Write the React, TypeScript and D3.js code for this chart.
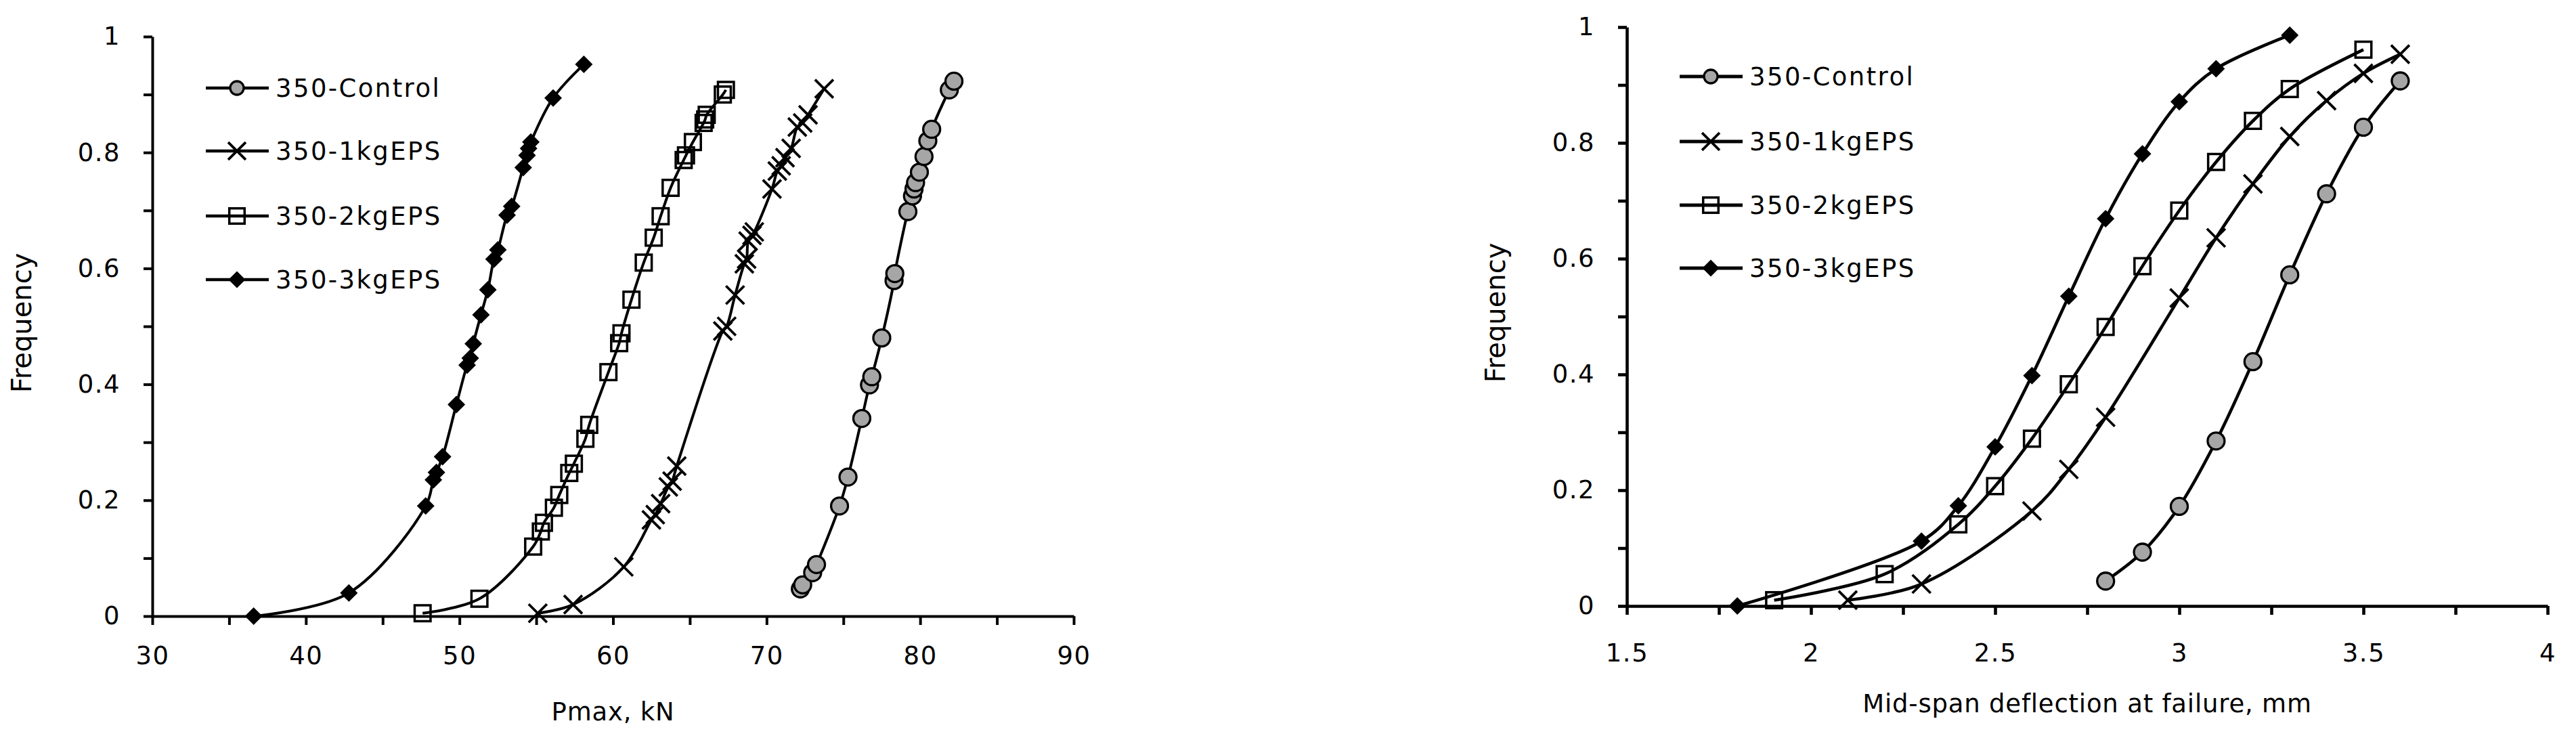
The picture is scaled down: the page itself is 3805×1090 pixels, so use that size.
import React, { useEffect, useRef } from "react";
import * as d3 from "d3";

const seriesNames = ["350-Control", "350-1kgEPS", "350-2kgEPS", "350-3kgEPS"];
const markerTypes = ["circle", "cross", "square", "diamond"];

// ---------------- Pmax panel ----------------
const pmaxControlX = [72.2, 72.35, 73.0, 73.25, 74.75, 75.3, 76.2, 76.7, 76.85, 77.5, 78.3, 78.35, 79.2, 79.5, 79.6, 79.7, 79.95, 80.25, 80.5, 80.75, 81.9, 82.2];
const pmaxControlY = [0.047, 0.054, 0.075, 0.089, 0.19, 0.24, 0.341, 0.399, 0.413, 0.48, 0.579, 0.591, 0.698, 0.725, 0.737, 0.748, 0.766, 0.793, 0.82, 0.84, 0.908, 0.923];

const pmax1kgX = [55.1, 57.4, 60.7, 62.5, 62.75, 63.1, 63.6, 63.85, 64.15, 67.15, 67.4, 67.95, 68.55, 68.7, 68.8, 69.05, 69.2, 70.35, 70.7, 70.95, 71.2, 71.6, 72.0, 72.35, 72.7, 73.75];
const pmax1kgY = [0.005, 0.02, 0.085, 0.166, 0.175, 0.194, 0.223, 0.233, 0.259, 0.492, 0.5, 0.554, 0.608, 0.616, 0.647, 0.657, 0.663, 0.737, 0.768, 0.777, 0.791, 0.807, 0.844, 0.851, 0.865, 0.91];

const pmax2kgX = [47.6, 51.3, 54.8, 55.3, 55.5, 56.15, 56.5, 57.15, 57.45, 58.2, 58.45, 59.7, 60.4, 60.55, 61.2, 62.0, 62.65, 63.1, 63.75, 64.6, 64.75, 65.2, 65.9, 66.0, 66.1, 67.15, 67.35];
const pmax2kgY = [0.005, 0.03, 0.12, 0.146, 0.161, 0.187, 0.209, 0.247, 0.263, 0.306, 0.33, 0.421, 0.471, 0.488, 0.546, 0.61, 0.653, 0.69, 0.739, 0.787, 0.795, 0.818, 0.851, 0.857, 0.865, 0.9, 0.908];

const pmax3kgX = [36.6, 42.8, 47.8, 48.3, 48.5, 48.9, 49.8, 50.5, 50.7, 50.9, 51.4, 51.85, 52.25, 52.5, 53.1, 53.4, 54.15, 54.4, 54.5, 54.65, 56.1, 58.1];
const pmax3kgY = [0.0, 0.04, 0.19, 0.235, 0.248, 0.275, 0.365, 0.433, 0.445, 0.47, 0.52, 0.563, 0.616, 0.632, 0.692, 0.707, 0.774, 0.795, 0.807, 0.818, 0.894, 0.952];

// ---------------- deflection panel ----------------
const deflControlX = [2.8, 2.9, 3.0, 3.1, 3.2, 3.3, 3.4, 3.5, 3.6];
const deflControlY = [0.043, 0.093, 0.172, 0.285, 0.422, 0.572, 0.712, 0.827, 0.907];

const defl1kgX = [2.1, 2.3, 2.6, 2.7, 2.8, 3.0, 3.1, 3.2, 3.3, 3.4, 3.5, 3.6];
const defl1kgY = [0.01, 0.038, 0.164, 0.236, 0.326, 0.532, 0.636, 0.729, 0.811, 0.873, 0.92, 0.953];

const defl2kgX = [1.9, 2.2, 2.4, 2.5, 2.6, 2.7, 2.8, 2.9, 3.0, 3.1, 3.2, 3.3, 3.5];
const defl2kgY = [0.01, 0.055, 0.141, 0.207, 0.289, 0.383, 0.482, 0.587, 0.683, 0.767, 0.838, 0.893, 0.961];

const defl3kgX = [1.8, 2.3, 2.4, 2.5, 2.6, 2.7, 2.8, 2.9, 3.0, 3.1, 3.3];
const defl3kgY = [0.0, 0.112, 0.173, 0.275, 0.398, 0.535, 0.669, 0.781, 0.871, 0.928, 0.986];

// ---------------- ticks ----------------
const pmaxTickLabels = [30, 40, 50, 60, 70, 80, 90];
const deflTickLabels = [1.5, 2, 2.5, 3, 3.5, 4];
const freqTickLabels = [0, 0.2, 0.4, 0.6, 0.8, 1];

const FONT = "DejaVu Sans, Lato, sans-serif";

const zip = (xs: number[], ys: number[]) => xs.map((v, i) => [v, ys[i]] as [number, number]);

const panels = [
  {
    left: 225, right: 1586, top: 54, bottom: 910,
    xDomain: [30, 90], xStep: 5, xLabels: pmaxTickLabels,
    xTitle: "Pmax, kN", xTitleY: 1064, xPad: 31,
    yTitleX: 46, yTitleY: 477,
    legendX: 304, legendRows: [130, 223, 319, 413],
    strokeW: 4, axisW: 4, legendW: 4.5,
    series: [zip(pmaxControlX, pmaxControlY), zip(pmax1kgX, pmax1kgY), zip(pmax2kgX, pmax2kgY), zip(pmax3kgX, pmax3kgY)],
  },
  {
    left: 2403, right: 3763, top: 40, bottom: 895,
    xDomain: [1.5, 4], xStep: 0.25, xLabels: deflTickLabels,
    xTitle: "Mid-span deflection at failure, mm", xTitleY: 1052, xPad: 42,
    yTitleX: 2223, yTitleY: 462,
    legendX: 2481, legendRows: [113, 209, 303, 396],
    strokeW: 4.6, axisW: 4.6, legendW: 5,
    series: [zip(deflControlX, deflControlY), zip(defl1kgX, defl1kgY), zip(defl2kgX, defl2kgY), zip(defl3kgX, defl3kgY)],
  },
];

function drawMarker(g: any, type: string, cx: number, cy: number, s: number) {
  if (type === "circle") {
    g.append("circle").attr("cx", cx).attr("cy", cy).attr("r", s * 0.5)
      .attr("fill", "#a6a6a6").attr("stroke", "#000").attr("stroke-width", 3.3);
  } else if (type === "square") {
    g.append("rect").attr("x", cx - s * 0.47).attr("y", cy - s * 0.47)
      .attr("width", s * 0.94).attr("height", s * 0.94)
      .attr("fill", "none").attr("stroke", "#000").attr("stroke-width", 3.5);
  } else if (type === "diamond") {
    const h = s * 0.52;
    g.append("path")
      .attr("d", `M${cx},${cy - h}L${cx + h},${cy}L${cx},${cy + h}L${cx - h},${cy}Z`)
      .attr("fill", "#000");
  } else {
    const h = s * 0.54;
    g.append("path")
      .attr("d", `M${cx - h},${cy - h}L${cx + h},${cy + h}M${cx - h},${cy + h}L${cx + h},${cy - h}`)
      .attr("stroke", "#000").attr("stroke-width", 3.8).attr("fill", "none");
  }
}

function drawPanel(svg: any, p: any) {
  const x = d3.scaleLinear().domain(p.xDomain).range([p.left, p.right]);
  const y = d3.scaleLinear().domain([0, 1]).range([p.bottom, p.top]);
  const isLabel = (arr: number[], v: number) => arr.some(t => Math.abs(t - v) < 1e-9);

  // ---------------- axes ----------------
  const xTicks = d3.range(p.xDomain[0], p.xDomain[1] + 1e-9, p.xStep);
  const yTicks = d3.range(0, 10.5).map(i => i / 10);

  const xAxis = d3.axisBottom(x)
    .tickValues(xTicks)
    .tickFormat((v: any) => (isLabel(p.xLabels, v) ? String(+(+v).toFixed(2)) : ""))
    .tickSize(13).tickSizeOuter(0).tickPadding(p.xPad + 1);

  const yAxis = d3.axisLeft(y)
    .tickValues(yTicks)
    .tickFormat((v: any) => (isLabel(freqTickLabels, v) ? String(+(+v).toFixed(2)) : ""))
    .tickSize(13).tickSizeOuter(0).tickPadding(34);

  const gx = svg.append("g").attr("transform", `translate(0,${p.bottom})`).call(xAxis);
  const gy = svg.append("g").attr("transform", `translate(${p.left},0)`).call(yAxis);

  [gx, gy].forEach(ax => {
    ax.attr("font-family", FONT).attr("font-size", 37);
    ax.selectAll("path.domain").attr("stroke", "#000").attr("stroke-width", p.axisW);
    ax.selectAll(".tick line").attr("stroke", "#000").attr("stroke-width", p.axisW);
    ax.selectAll(".tick text").attr("fill", "#000").attr("letter-spacing", 1.5);
  });

  // ---------------- titles ----------------
  svg.append("text")
    .attr("x", (p.left + p.right) / 2).attr("y", p.xTitleY)
    .attr("text-anchor", "middle").attr("font-family", FONT).attr("font-size", 37)
    .attr("letter-spacing", 0.8)
    .text(p.xTitle);

  svg.append("text")
    .attr("transform", `translate(${p.yTitleX},${p.yTitleY}) rotate(-90)`)
    .attr("text-anchor", "middle").attr("font-family", FONT).attr("font-size", 40)
    .text("Frequency");

  // ---------------- curves ----------------
  const line = d3.line<[number, number]>()
    .x(d => x(d[0]))
    .y(d => y(d[1]))
    .curve(d3.curveCatmullRom.alpha(0.5));

  p.series.forEach((data: [number, number][], i: number) => {
    const g = svg.append("g");
    g.append("path")
      .datum(data)
      .attr("fill", "none")
      .attr("stroke", "#000")
      .attr("stroke-width", p.strokeW)
      .attr("d", line);
    data.forEach(d => drawMarker(g, markerTypes[i], x(d[0]), y(d[1]), 25));
  });

  // ---------------- legend ----------------
  seriesNames.forEach((name, i) => {
    const ly = p.legendRows[i];
    const g = svg.append("g");
    g.append("line")
      .attr("x1", p.legendX).attr("x2", p.legendX + 93)
      .attr("y1", ly).attr("y2", ly)
      .attr("stroke", "#000").attr("stroke-width", p.legendW);
    drawMarker(g, markerTypes[i], p.legendX + 46, ly, markerTypes[i] === "circle" ? 20 : 24);
    g.append("text")
      .attr("x", p.legendX + 103).attr("y", ly).attr("dy", "0.36em")
      .attr("font-family", FONT).attr("font-size", 37).attr("letter-spacing", 2.4)
      .text(name);
  });
}

export default function App() {
  const svgRef = useRef<SVGSVGElement>(null);

  useEffect(() => {
    document.body.style.margin = "0";
    const svg = d3.select(svgRef.current);
    svg.selectAll("*").remove();
    svg.append("rect").attr("width", 3805).attr("height", 1090).attr("fill", "#fff");
    panels.forEach(p => drawPanel(svg, p));
  }, []);

  return <svg ref={svgRef} width={3805} height={1090} style={{ display: "block" }} />;
}
